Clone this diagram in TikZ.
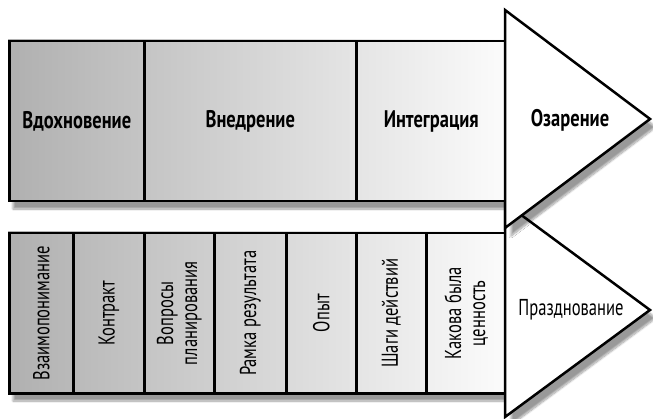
\documentclass[tikz,border=0pt]{standalone}
\usepackage{fontspec}
\setmainfont{PT Sans}[FakeStretch=0.72]
\newfontfamily\stagefont{PT Sans}[FakeStretch=0.77]
\usepackage{tikz}
\usetikzlibrary{shadows.blur,positioning}

\begin{document}
\begin{tikzpicture}[x=1pt,y=-1pt,line width=2.5pt]
    % `band' is the long shaded strip, `cell' one box drawn on it.
    % `tip' is the white arrow head at the right end of a strip.
    \tikzstyle{band} = [left color=gray!62,right color=gray!3,
        blur shadow={shadow xshift=5pt,shadow yshift=-9pt,shadow blur steps=12}]
    \tikzstyle{cell} = [draw,inner sep=0pt,anchor=north west,minimum height=160]
    \tikzstyle{tip} = [draw,fill=white,line join=miter,
        blur shadow={shadow xshift=6pt,shadow yshift=-8pt,shadow blur steps=12}]
    \tikzstyle{stage} = [font=\stagefont\fontsize{24}{26}\selectfont\bfseries]
    \tikzstyle{steplabel} = [font=\fontsize{23}{24}\selectfont,rotate=90,align=center]
    \useasboundingbox (0,0) rectangle (653,419);
    %
    % Lower strip.
    \path[band] (8,232) rectangle (505,392);
    \node[cell,minimum width=64] (b1) at (8,232) {};
    \node[cell,minimum width=71] (b2) at (72,232) {};
    \node[cell,minimum width=70] (b3) at (143,232) {};
    \node[cell,minimum width=72] (b4) at (213,232) {};
    \node[cell,minimum width=70] (b5) at (285,232) {};
    \node[cell,minimum width=70] (b6) at (355,232) {};
    \node[cell,minimum width=80] (b7) at (425,232) {};
    \node[steplabel] (s1) at (b1) {Взаимопонимание};
    \node[steplabel] (s2) at (b2) {Контракт};
    \node[steplabel] (s3) at (b3) {Вопросы\\планирования};
    \node[steplabel] (s4) at (b4) {Рамка результата};
    \node[steplabel] (s5) at (b5) {Опыт};
    \node[steplabel] (s6) at (b6) {Шаги действий};
    \node[steplabel] (s7) at (b7) {Какова была\\ценность};
    % Lower arrow head.
    \coordinate (l1) at (505,203);
    \coordinate (l2) at (650,310);
    \coordinate (l3) at (505,417);
    \path[tip] (l1) -- (l2) -- (l3) -- cycle;
    \node[font=\fontsize{23}{24}\selectfont] (celebrate) at (571,310) {Празднование};
    %
    % Upper strip.
    \path[band] (8,40) rectangle (505,200);
    \node[cell,minimum width=135] (a1) at (8,40) {};
    \node[cell,minimum width=212] (a2) at (143,40) {};
    \node[cell,minimum width=150] (a3) at (355,40) {};
    \node[stage] (inspire) at (a1) {Вдохновение};
    \node[stage] (adopt) at (a2) {Внедрение};
    \node[stage] (integrate) at (a3) {Интеграция};
    % Upper arrow head.
    \coordinate (u1) at (505,10);
    \coordinate (u2) at (650,119);
    \coordinate (u3) at (505,228);
    \path[tip] (u1) -- (u2) -- (u3) -- cycle;
    \node[stage] (insight) at (570,120) {Озарение};
\end{tikzpicture}
\end{document}
